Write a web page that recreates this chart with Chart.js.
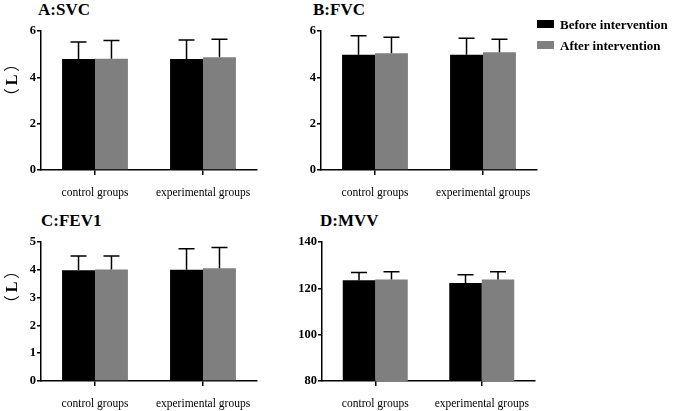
<!DOCTYPE html>
<html>
<head>
<meta charset="utf-8">
<script src="https://cdn.jsdelivr.net/npm/chart.js@4.4.0/dist/chart.umd.min.js"></script>
<style>
  body { margin: 0; background: #fff; }
  #wrap { position: relative; width: 676px; height: 411px; overflow: hidden; font-family: "Liberation Serif", "Times New Roman", serif; }
  canvas { position: absolute; }
  .title { position: absolute; font-weight: bold; font-size: 17px; line-height: 17px; color: #000; }
  .ylab { position: absolute; font-weight: bold; font-size: 16px; line-height: 16px; transform: translate(-50%, -50%) rotate(-90deg); white-space: nowrap; }
  .ylab .p { font-family: "Noto Sans CJK SC", sans-serif; font-weight: normal; }
  .ylab .o { margin-right: 3px; }
  .ylab .c { margin-left: 3px; }
  .legend { position: absolute; left: 537px; top: 17px; font-weight: bold; font-size: 13px; color: #000; }
  .legend div { height: 21px; line-height: 16px; white-space: nowrap; }
  .legend span { display: inline-block; width: 17px; height: 8px; margin-right: 6px; vertical-align: 1px; }
</style>
</head>
<body>
<div id="wrap">
  <canvas id="cA" width="270" height="180" style="left:0px;top:20px"></canvas>
  <canvas id="cB" width="270" height="180" style="left:280px;top:20px"></canvas>
  <canvas id="cC" width="270" height="180" style="left:0px;top:231px"></canvas>
  <canvas id="cD" width="270" height="180" style="left:281px;top:231px"></canvas>

  <div class="title" style="left:38px;top:1px">A:SVC</div>
  <div class="title" style="left:313px;top:1px">B:FVC</div>
  <div class="title" style="left:41px;top:212px">C:FEV1</div>
  <div class="title" style="left:320px;top:212px">D:MVV</div>

  <div class="ylab" style="left:11px;top:80px"><span class="p o">（</span>L<span class="p c">）</span></div>
  <div class="ylab" style="left:11px;top:287px"><span class="p o">（</span>L<span class="p c">）</span></div>

  <div class="legend" id="legend"></div>
</div>

<script>
// data (mean and upper SD)
const categories = ['control groups', 'experimental groups'];
const seriesNames = ['Before intervention', 'After intervention'];
const seriesColors = ['#000000', '#7f7f7f'];

const svcBefore = [4.79, 4.79];
const svcBeforeSd = [0.73, 0.82];
const svcAfter = [4.80, 4.87];
const svcAfterSd = [0.79, 0.77];

const fvcBefore = [4.97, 4.97];
const fvcBeforeSd = [0.82, 0.72];
const fvcAfter = [5.04, 5.08];
const fvcAfterSd = [0.69, 0.56];

const fev1Before = [3.98, 4.00];
const fev1BeforeSd = [0.52, 0.76];
const fev1After = [4.01, 4.06];
const fev1AfterSd = [0.49, 0.74];

const mvvBefore = [123.5, 122.3];
const mvvBeforeSd = [3.3, 3.6];
const mvvAfter = [123.8, 123.8];
const mvvAfterSd = [3.4, 3.4];

const serif = '"Liberation Serif", "Times New Roman", serif';

// error bars (upper only) drawn from the bar elements and y scale
const errorBars = {
  id: 'errorBars',
  afterDatasetsDraw(chart) {
    const ctx = chart.ctx;
    const y = chart.scales.y;
    ctx.save();
    ctx.strokeStyle = '#000';
    ctx.lineWidth = 1.5;
    chart.data.datasets.forEach((ds, i) => {
      const meta = chart.getDatasetMeta(i);
      meta.data.forEach((bar, j) => {
        const top = y.getPixelForValue(ds.data[j] + ds.sd[j]);
        ctx.beginPath();
        ctx.moveTo(bar.x, bar.y);
        ctx.lineTo(bar.x, top);
        ctx.moveTo(bar.x - 8, top);
        ctx.lineTo(bar.x + 8, top);
        ctx.stroke();
      });
    });
    ctx.restore();
  }
};

function makePanel(id, before, beforeSd, after, afterSd, min, max, step, padRight) {
  new Chart(document.getElementById(id), {
    type: 'bar',
    data: {
      labels: categories,
      datasets: [
        { label: seriesNames[0], data: before, sd: beforeSd, backgroundColor: seriesColors[0] },
        { label: seriesNames[1], data: after, sd: afterSd, backgroundColor: seriesColors[1] }
      ]
    },
    options: {
      responsive: false,
      animation: false,
      layout: { padding: { left: 0, right: padRight, top: 11, bottom: 0 } },
      categoryPercentage: 0.61,
      barPercentage: 1,
      plugins: { legend: { display: false }, tooltip: { enabled: false } },
      scales: {
        x: {
          offset: true,
          grid: { drawOnChartArea: false, offset: false, tickLength: 5, color: '#000', lineWidth: 1.5 },
          border: { color: '#000', width: 1.5 },
          ticks: { color: '#000', padding: 11, font: { family: serif, size: 11.5 } },
          afterFit(scale) { scale.height = 30; }
        },
        y: {
          min: min,
          max: max,
          grid: { drawOnChartArea: false, tickLength: 4, color: '#000', lineWidth: 1.5 },
          border: { color: '#000', width: 1.5 },
          ticks: { stepSize: step, color: '#000', padding: 1, font: { family: serif, size: 12.5, weight: 'bold' } },
          afterFit(scale) { scale.width = 41; }
        }
      }
    },
    plugins: [errorBars]
  });
}

makePanel('cA', svcBefore, svcBeforeSd, svcAfter, svcAfterSd, 0, 6, 2, 13);
makePanel('cB', fvcBefore, fvcBeforeSd, fvcAfter, fvcAfterSd, 0, 6, 2, 13);
makePanel('cC', fev1Before, fev1BeforeSd, fev1After, fev1AfterSd, 0, 5, 1, 13);
makePanel('cD', mvvBefore, mvvBeforeSd, mvvAfter, mvvAfterSd, 80, 140, 20, 16);

// legend
const legend = document.getElementById('legend');
seriesNames.forEach((name, i) => {
  const row = document.createElement('div');
  row.innerHTML = `<span style="background:${seriesColors[i]}"></span>${name}`;
  legend.appendChild(row);
});
</script>
</body>
</html>
